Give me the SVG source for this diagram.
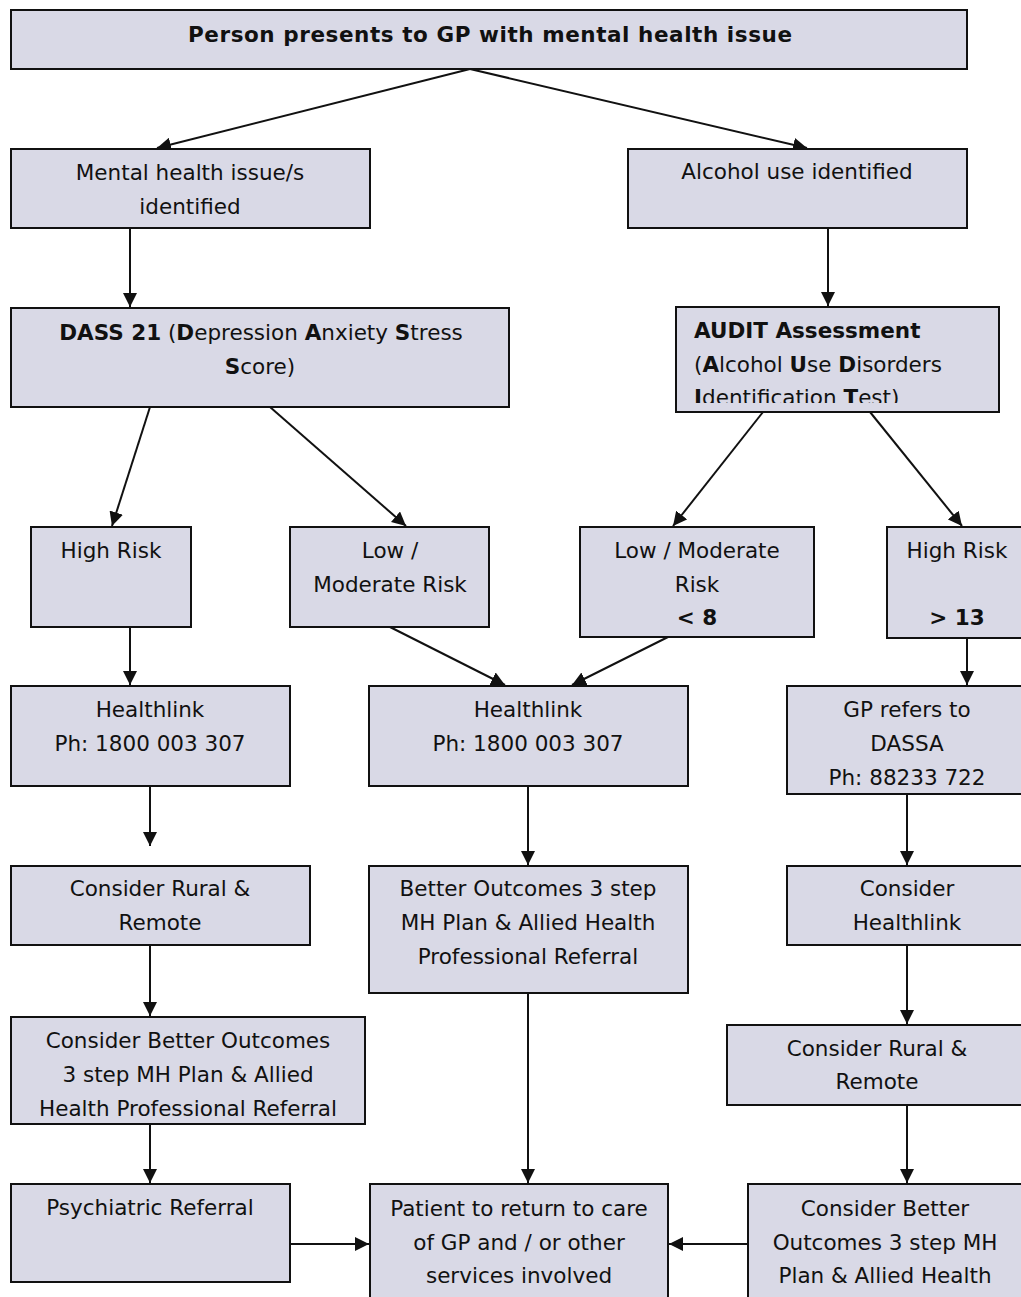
<svg xmlns="http://www.w3.org/2000/svg" width="1021" height="1297" viewBox="0 0 1021 1297">
<style>
.box{fill:#D9D9E6;stroke:#111;stroke-width:2}
text{font-family:"DejaVu Sans",Verdana,sans-serif;font-size:21.5px;fill:#111}
.c{text-anchor:middle}
.b{font-weight:bold}
.con line{stroke:#111;stroke-width:2;marker-end:url(#ah)}
</style>
<defs>
<marker id="ah" markerUnits="userSpaceOnUse" markerWidth="14" markerHeight="14" refX="14" refY="7" orient="auto">
<path d="M0,0 L14,7 L0,14 z" fill="#111"/>
</marker>
<clipPath id="auditclip"><rect x="676" y="307" width="323" height="96"/></clipPath>
</defs>
<rect width="1021" height="1297" fill="#fff"/>
<g class="con">
<line x1="470" y1="69" x2="157" y2="148"/>
<line x1="470" y1="69" x2="807" y2="148"/>
<line x1="130" y1="228" x2="130" y2="307"/>
<line x1="828" y1="228" x2="828" y2="306"/>
<line x1="150" y1="407" x2="112" y2="526"/>
<line x1="270" y1="407" x2="406" y2="526"/>
<line x1="763" y1="412" x2="673" y2="526"/>
<line x1="870" y1="412" x2="962" y2="526"/>
<line x1="130" y1="627" x2="130" y2="685"/>
<line x1="390" y1="627" x2="505" y2="685"/>
<line x1="668" y1="637" x2="572" y2="685"/>
<line x1="967" y1="638" x2="967" y2="685"/>
<line x1="150" y1="786" x2="150" y2="846"/>
<line x1="528" y1="786" x2="528" y2="865"/>
<line x1="907" y1="794" x2="907" y2="865"/>
<line x1="150" y1="945" x2="150" y2="1016"/>
<line x1="907" y1="945" x2="907" y2="1024"/>
<line x1="150" y1="1124" x2="150" y2="1183"/>
<line x1="907" y1="1105" x2="907" y2="1183"/>
<line x1="528" y1="993" x2="528" y2="1183"/>
<line x1="290" y1="1244" x2="369" y2="1244"/>
<line x1="748" y1="1244" x2="669" y2="1244"/>
</g>
<g id="n-start"><rect class="box" x="11" y="10" width="956" height="59"/><text class="c b" x="490" y="42" textLength="604" lengthAdjust="spacing">Person presents to GP with mental health issue</text></g>
<g id="n-mh"><rect class="box" x="11" y="149" width="359" height="79"/><text class="c" x="190" y="180">Mental health issue/s</text><text class="c" x="190" y="214">identified</text></g>
<g id="n-alc"><rect class="box" x="628" y="149" width="339" height="79"/><text class="c" x="797" y="179">Alcohol use identified</text></g>
<g id="n-dass"><rect class="box" x="11" y="308" width="498" height="99"/><text class="c" x="261" y="340"><tspan class="b">DASS 21</tspan> (<tspan class="b">D</tspan>epression <tspan class="b">A</tspan>nxiety <tspan class="b">S</tspan>tress</text><text class="c" x="260" y="374"><tspan class="b">S</tspan>core)</text></g>
<g id="n-audit"><rect class="box" x="676" y="307" width="323" height="105"/><g clip-path="url(#auditclip)"><text class="b" x="694" y="338">AUDIT Assessment</text><text x="694" y="372">(<tspan class="b">A</tspan>lcohol <tspan class="b">U</tspan>se <tspan class="b">D</tspan>isorders</text><text x="694" y="405"><tspan class="b">I</tspan>dentification <tspan class="b">T</tspan>est)</text></g></g>
<g id="n-hr1"><rect class="box" x="31" y="527" width="160" height="100"/><text class="c" x="111" y="558">High Risk</text></g>
<g id="n-lm1"><rect class="box" x="290" y="527" width="199" height="100"/><text class="c" x="390" y="558">Low /</text><text class="c" x="390" y="592">Moderate Risk</text></g>
<g id="n-lm2"><rect class="box" x="580" y="527" width="234" height="110"/><text class="c" x="697" y="558">Low / Moderate</text><text class="c" x="697" y="592">Risk</text><text class="c b" x="697" y="625">&lt; 8</text></g>
<g id="n-hr2"><rect class="box" x="887" y="527" width="140" height="111"/><text class="c" x="957" y="558">High Risk</text><text class="c b" x="957" y="625">&gt; 13</text></g>
<g id="n-hl1"><rect class="box" x="11" y="686" width="279" height="100"/><text class="c" x="150" y="717">Healthlink</text><text class="c" x="150" y="751">Ph: 1800 003 307</text></g>
<g id="n-hl2"><rect class="box" x="369" y="686" width="319" height="100"/><text class="c" x="528" y="717">Healthlink</text><text class="c" x="528" y="751">Ph: 1800 003 307</text></g>
<g id="n-dassa"><rect class="box" x="787" y="686" width="240" height="108"/><text class="c" x="907" y="717">GP refers to</text><text class="c" x="907" y="751">DASSA</text><text class="c" x="907" y="785">Ph: 88233 722</text></g>
<g id="n-rr1"><rect class="box" x="11" y="866" width="299" height="79"/><text class="c" x="160" y="896">Consider Rural &amp;</text><text class="c" x="160" y="930">Remote</text></g>
<g id="n-bo"><rect class="box" x="369" y="866" width="319" height="127"/><text class="c" x="528" y="896">Better Outcomes 3 step</text><text class="c" x="528" y="930">MH Plan &amp; Allied Health</text><text class="c" x="528" y="964">Professional Referral</text></g>
<g id="n-chl"><rect class="box" x="787" y="866" width="240" height="79"/><text class="c" x="907" y="896">Consider</text><text class="c" x="907" y="930">Healthlink</text></g>
<g id="n-cbo1"><rect class="box" x="11" y="1017" width="354" height="107"/><text class="c" x="188" y="1048">Consider Better Outcomes</text><text class="c" x="188" y="1082">3 step MH Plan &amp; Allied</text><text class="c" x="188" y="1116">Health Professional Referral</text></g>
<g id="n-rr2"><rect class="box" x="727" y="1025" width="300" height="80"/><text class="c" x="877" y="1056">Consider Rural &amp;</text><text class="c" x="877" y="1089">Remote</text></g>
<g id="n-psy"><rect class="box" x="11" y="1184" width="279" height="98"/><text class="c" x="150" y="1215">Psychiatric Referral</text></g>
<g id="n-pat"><rect class="box" x="370" y="1184" width="298" height="130"/><text class="c" x="519" y="1216">Patient to return to care</text><text class="c" x="519" y="1250">of GP and / or other</text><text class="c" x="519" y="1283">services involved</text></g>
<g id="n-cbo2"><rect class="box" x="748" y="1184" width="279" height="130"/><text class="c" x="885" y="1216">Consider Better</text><text class="c" x="885" y="1250">Outcomes 3 step MH</text><text class="c" x="885" y="1283">Plan &amp; Allied Health</text></g>
</svg>
